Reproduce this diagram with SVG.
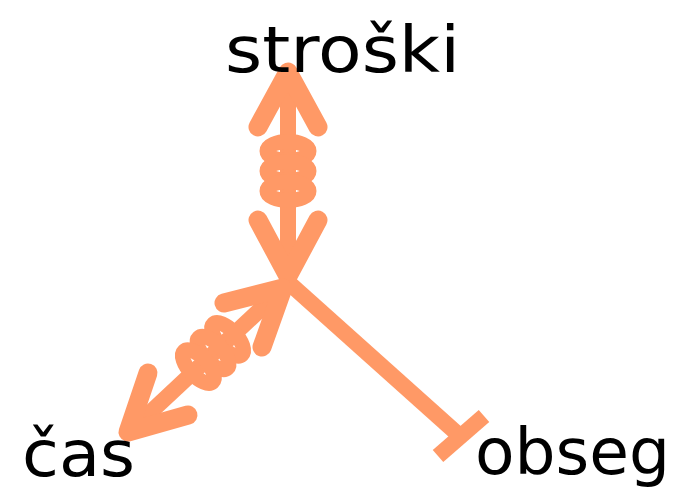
<svg xmlns="http://www.w3.org/2000/svg" width="687" height="492" viewBox="0 0 687 492">
<style>
.ln{fill:none;stroke:#FF9966;stroke-width:19;stroke-linecap:round;stroke-linejoin:round}
.sq{fill:none;stroke:#FF9966;stroke-width:16;stroke-linecap:butt}
.coil{fill:none;stroke:#FF9966;stroke-width:15}
.head{fill:#FF9966}
.lbl{font-family:"Comic Sans MS","DejaVu Sans","Liberation Sans",sans-serif;font-size:64px;fill:#000}
</style>
<rect width="687" height="492" fill="#fff"/>
<g id="connectors">
  <g id="c-stroski">
    <line class="sq" x1="288" y1="90" x2="288" y2="262"/>
    <polygon class="head" points="288,65 301,95 275,95"/>
    <polyline class="ln" points="258,127 288,72 318,127"/>
    <polyline class="ln" points="258,220 288,276 318,220"/>
    <ellipse class="coil" cx="288" cy="151" rx="21" ry="9.5"/>
    <ellipse class="coil" cx="288" cy="171" rx="21" ry="9.5"/>
    <ellipse class="coil" cx="288" cy="191" rx="21" ry="9.5"/>
  </g>
  <g id="c-cas">
    <line class="sq" x1="278" y1="293" x2="140" y2="422"/>
    <polyline class="ln" points="224,303 283,288 262,347"/>
    <polyline class="ln" points="148,373 128,432 188,415"/>
    <g transform="translate(213,353) rotate(47)">
      <ellipse class="coil" cx="0" cy="-20" rx="21" ry="9.5"/>
      <ellipse class="coil" cx="0" cy="0" rx="21" ry="9.5"/>
      <ellipse class="coil" cx="0" cy="20" rx="21" ry="9.5"/>
    </g>
  </g>
  <g id="c-obseg">
    <line class="sq" x1="289" y1="283" x2="461" y2="437"/>
    <line class="sq" x1="438" y1="456" x2="484" y2="416"/>
  </g>
</g>
<g id="n-stroski"><text class="lbl" x="225" y="72" textLength="235" lengthAdjust="spacingAndGlyphs">stroški</text></g>
<g id="n-cas"><text class="lbl" x="22" y="476" textLength="113" lengthAdjust="spacingAndGlyphs">čas</text></g>
<g id="n-obseg"><text class="lbl" x="475" y="474" textLength="195" lengthAdjust="spacingAndGlyphs">obseg</text></g>
</svg>
